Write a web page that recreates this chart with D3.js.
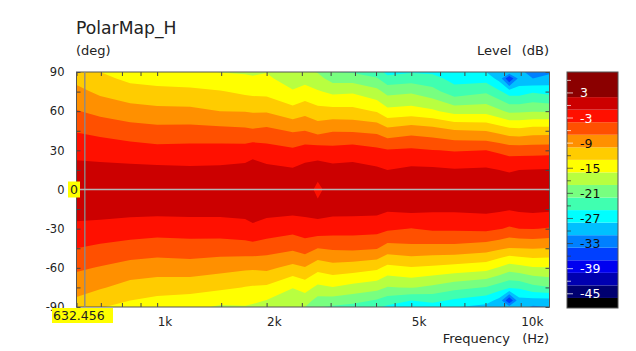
<!DOCTYPE html>
<html>
<head>
<meta charset="utf-8">
<script src="https://d3js.org/d3.v7.min.js"></script>
<style>
    html, body { margin: 0; padding: 0; background: #fff; }
    svg { display: block; }
    text { font-family: "DejaVu Sans", sans-serif; fill: #222; }
    .axis path { display: none; }
    .axis line { stroke: #444; }
    .axis text { font-size: 11.5px; fill: #222; }
</style>
</head>
<body>
<div id="chart"></div>
<script>
let freqs = [600, 697, 843, 1000, 1232, 1489, 1745, 1832, 2000, 2360, 2550, 2765, 3040,
    3450, 4020, 4300, 5000, 5720, 6570, 8030, 8730, 9300, 9900, 10800, 12000];

let angles = [90, 85, 75, 60, 45, 30, 15, 0, -15, -30, -45, -60, -75, -85, -90];

let levels = [
    [-11.6,-10.8,-9.2,-6.8,-4.2,-2,0,1,0.3,-1.8,-4,-6.5,-8.9,-10.4,-11.2],
    [-13,-12.2,-10.6,-7.9,-4.8,-2.3,-0.1,1,0.2,-2,-4.6,-7.2,-9.7,-11.8,-12.8],
    [-14.6,-13.7,-11.8,-8.8,-5.6,-2.7,-0.2,1,0,-2.4,-5.2,-8.2,-11.1,-13,-14],
    [-15,-14.1,-12.2,-9.2,-6,-3.1,-0.3,1,0,-2.7,-5.6,-8.6,-11.6,-13.7,-14.7],
    [-15.3,-14.3,-12.4,-9.3,-5.9,-3,-0.5,1,0,-2.5,-5.4,-8.3,-11.9,-14.1,-15.2],
    [-16.1,-15,-12.8,-10,-6.1,-2.9,-0.4,1,0,-2.5,-5.5,-9,-12.4,-15.1,-16.4],
    [-16.3,-15.4,-13.6,-10.1,-6.4,-2.8,0,1.2,0.1,-2.1,-5.3,-9.5,-13.1,-15.2,-16.2],
    [-16.5,-15.6,-13.8,-10.3,-6.6,-2.2,0.4,1.3,0.5,-1.6,-5.2,-9.6,-13.3,-15.4,-16.5],
    [-16.1,-15.4,-13.9,-10.3,-6.2,-2.8,-0.2,1,0,-2.2,-5.7,-9.3,-13.5,-16.1,-17.4],
    [-18.5,-17.6,-15.7,-11.9,-7.3,-3.5,-0.7,1,0,-3,-6.4,-10.9,-15.9,-17.3,-18],
    [-18,-17,-14.9,-11,-7,-2.7,0,1,0,-2.5,-5.6,-10.2,-14.8,-17.6,-19],
    [-19.2,-18,-15.7,-12,-8,-2.6,0.5,-2,0.2,-2.2,-7,-12,-16.7,-20.1,-21.8],
    [-22,-20.2,-16.7,-12,-7.2,-3,0,1,0,-2.6,-6.6,-11.2,-16.1,-20.3,-22.4],
    [-22.3,-20.3,-16.4,-12.1,-7.3,-2.6,0.1,1,0,-2.7,-6.4,-11.6,-17,-21,-23],
    [-23.5,-21.7,-18.1,-13.2,-7.7,-3.4,-0.5,1,-0.1,-2.9,-6.8,-12.4,-17.9,-22.3,-24.5],
    [-26,-24,-20,-15.1,-9,-3.8,-1,0.8,-0.6,-3.5,-8.3,-13.9,-19.2,-23.5,-25.6],
    [-25.3,-23.4,-19.5,-14.7,-8.1,-3.5,-0.4,1,-0.2,-4.1,-7.8,-13.2,-18.8,-25,-27],
    [-25.5,-24,-20.9,-15.5,-8.6,-3.9,-0.5,1,-0.5,-3.5,-8,-13.6,-19.7,-24.2,-26.5],
    [-27,-26,-23.8,-17.1,-9.7,-4.2,-0.8,1,-0.5,-3.5,-8,-14.1,-21,-25.5,-27.8],
    [-28,-26.2,-22.5,-17,-10.1,-4,-0.6,1,-0.3,-3.3,-8.7,-14.8,-22.2,-26.7,-29],
    [-28.5,-29,-24.5,-18.4,-11,-4.6,-1,1,-0.5,-3.8,-9.5,-16.3,-23.5,-29,-29.5],
    [-29,-37,-26.5,-19.6,-11.8,-5.2,-1.3,1,-0.8,-4.4,-10.1,-17.6,-24.5,-37,-30],
    [-30,-30,-26.5,-19.5,-12,-5.2,-1,1,-0.5,-4,-10,-17,-24.5,-29,-29.5],
    [-32.5,-31,-25.4,-19.2,-11.4,-5.2,-0.9,1,-0.3,-3.9,-9.8,-16.3,-22.9,-29,-31.5],
    [-31.5,-30,-26.1,-19.3,-11.4,-5.1,-0.8,1,-0.5,-4.2,-10.1,-16.2,-22.1,-29,-31]
];

// Colour bands, 3 dB wide, low to high. thresholds[i] is the lower edge of bandColors[i + 1]
let thresholds = [-46, -43, -40, -37, -34, -31, -28, -25, -22, -19, -16, -13, -10, -7, -4, -1, 2];
let bandColors = ["#000000", "#000070", "#0000b0", "#0000f0", "#0040ff", "#0080ff", "#00c0ff", "#00ffff",
    "#40ffb0", "#78ff80", "#b8ff40", "#ffff00", "#ffcc00", "#ff9000", "#ff5000", "#ff1000", "#cc0000", "#8b0000"];

let levelRange = [8, -48.4];

let freqTicks = [600, 700, 800, 900, 1000, 1500, 2000, 2500, 3000, 3500, 4000, 4500, 5000, 6000, 7000, 8000, 9000, 10000];
let freqLabels = {1000: "1k", 2000: "2k", 5000: "5k", 10000: "10k"};
let angleTicks = [90, 75, 60, 45, 30, 15, 0, -15, -30, -45, -60, -75, -90];
let colorbarLabels = [3, -3, -9, -15, -21, -27, -33, -39, -45];
let lightLabels = [3, -3, -39, -45];

let cursorFreq = 632.456;
let cursorAngle = 0;

let svg = d3.select("#chart").append("svg")
    .attr("width", 636)
    .attr("height", 351);

let plot = {left: 76.5, right: 549.5, top: 72, bottom: 307};
let bar = {left: 567, right: 618, top: 72, bottom: 308};

let x = d3.scaleLog().domain([600, 12000]).range([plot.left, plot.right]);
let y = d3.scaleLinear().domain([90, -90]).range([plot.top, plot.bottom]);
let barY = d3.scaleLinear().domain(levelRange).range([bar.top, bar.bottom]);

// Grid index -> frequency / angle, the grid is not evenly spaced
let indexToLogFreq = d3.scaleLinear()
    .domain(d3.range(freqs.length))
    .range(freqs.map(f => Math.log10(f)))
    .clamp(true);
let indexToAngle = d3.scaleLinear()
    .domain(d3.range(angles.length))
    .range(angles)
    .clamp(true);

// d3.contours wants a flat array, row by row
let flat = [];
angles.forEach((a, j) => {
    freqs.forEach((f, i) => flat.push(levels[i][j]));
});

let contours = d3.contours()
    .size([freqs.length, angles.length])
    .thresholds(thresholds)(flat);

// values sit at cell centres, so take off the half cell
function ringPath(ring) {
    return "M" + ring.map(p => {
        let px = x(Math.pow(10, indexToLogFreq(p[0] - 0.5)));
        let py = y(indexToAngle(p[1] - 0.5));
        return px + "," + py;
    }).join("L") + "Z";
}

svg.append("defs").append("clipPath")
    .attr("id", "plot-clip")
    .append("rect")
    .attr("x", plot.left)
    .attr("y", plot.top)
    .attr("width", plot.right - plot.left)
    .attr("height", plot.bottom - plot.top);

let map = svg.append("g").attr("clip-path", "url(#plot-clip)");

map.append("rect")
    .attr("x", plot.left)
    .attr("y", plot.top)
    .attr("width", plot.right - plot.left)
    .attr("height", plot.bottom - plot.top)
    .attr("fill", bandColors[0]);

map.selectAll("path")
    .data(contours)
    .enter().append("path")
    .attr("fill", (d, i) => bandColors[i + 1])
    .attr("fill-rule", "evenodd")
    .attr("d", d => d.coordinates.map(poly => poly.map(ringPath).join("")).join(""));

// Axes: ticks point inwards on all four sides
let xAxis = d3.axisBottom(x)
    .tickValues(freqTicks)
    .tickSizeInner(-4)
    .tickSizeOuter(0)
    .tickPadding(10)
    .tickFormat(d => freqLabels[d] || "");

let xGroup = svg.append("g")
    .attr("class", "axis")
    .attr("transform", "translate(0," + plot.bottom + ")")
    .call(xAxis);
xGroup.selectAll("text")
    .attr("text-anchor", "start")
    .style("font-size", "12px");

svg.append("g")
    .attr("class", "axis")
    .attr("transform", "translate(0," + plot.top + ")")
    .call(d3.axisTop(x).tickValues(freqTicks).tickSizeInner(-4).tickSizeOuter(0).tickFormat(""));

svg.append("g")
    .attr("class", "axis")
    .attr("transform", "translate(" + plot.left + ",0)")
    .call(d3.axisLeft(y).tickValues(angleTicks).tickSizeInner(-4).tickSizeOuter(0).tickPadding(12)
        .tickFormat(d => d % 30 === 0 ? d : ""));

svg.append("g")
    .attr("class", "axis")
    .attr("transform", "translate(" + plot.right + ",0)")
    .call(d3.axisRight(y).tickValues(angleTicks).tickSizeInner(-4).tickSizeOuter(0).tickFormat(""));

svg.selectAll(".axis text")
    .style("font-family", '"DejaVu Sans", sans-serif');

svg.append("rect")
    .attr("x", plot.left)
    .attr("y", plot.top)
    .attr("width", plot.right - plot.left)
    .attr("height", plot.bottom - plot.top)
    .attr("fill", "none")
    .attr("stroke", "#555");

// Cursor lines
svg.append("line")
    .attr("x1", x(cursorFreq)).attr("x2", x(cursorFreq))
    .attr("y1", plot.top).attr("y2", plot.bottom)
    .attr("stroke", "#8a8a8a")
    .attr("stroke-width", 1.4);
svg.append("line")
    .attr("x1", plot.left).attr("x2", plot.right)
    .attr("y1", y(cursorAngle)).attr("y2", y(cursorAngle))
    .attr("stroke", "#b4b4b4")
    .attr("stroke-width", 1.4);

// Yellow cursor read-outs
svg.append("rect")
    .attr("x", 68).attr("y", y(cursorAngle) - 8)
    .attr("width", 12).attr("height", 16)
    .attr("fill", "#ffff00");
svg.append("text")
    .attr("x", 74).attr("y", y(cursorAngle) + 4.5)
    .attr("text-anchor", "middle")
    .style("font-size", "12.5px")
    .text(cursorAngle);
svg.append("rect")
    .attr("x", 52).attr("y", 308)
    .attr("width", 61).attr("height", 15)
    .attr("fill", "#ffff00");
svg.append("text")
    .attr("x", 53).attr("y", 320)
    .style("font-size", "12.5px")
    .text(cursorFreq);

// Titles
svg.append("text").attr("x", 76).attr("y", 34).style("font-size", "17.2px").text("PolarMap_H");
svg.append("text").attr("x", 76).attr("y", 55).style("font-size", "13px").text("(deg)");
svg.append("text")
    .attr("x", 549).attr("y", 55)
    .attr("text-anchor", "end")
    .style("font-size", "13px")
    .style("white-space", "pre")
    .style("word-spacing", "1px")
    .text("Level  (dB)");
svg.append("text")
    .attr("x", 549).attr("y", 343)
    .attr("text-anchor", "end")
    .style("font-size", "13px")
    .style("white-space", "pre")
    .text("Frequency   (Hz)");

// Colour bar
let edges = [levelRange[1]].concat(thresholds, [levelRange[0]]);

svg.append("g").selectAll("rect")
    .data(bandColors)
    .enter().append("rect")
    .attr("x", bar.left)
    .attr("width", bar.right - bar.left)
    .attr("y", (d, i) => barY(edges[i + 1]))
    .attr("height", (d, i) => barY(edges[i]) - barY(edges[i + 1]))
    .attr("fill", d => d);

svg.append("rect")
    .attr("x", bar.left)
    .attr("y", bar.top)
    .attr("width", bar.right - bar.left)
    .attr("height", bar.bottom - bar.top)
    .attr("fill", "none")
    .attr("stroke", "#555");

let barTicks = d3.range(6, -48, -3);
svg.append("g").selectAll("line")
    .data(barTicks)
    .enter().append("line")
    .attr("x1", bar.left)
    .attr("x2", d => bar.left + (d % 6 === 3 || d % 6 === -3 ? 6 : 4))
    .attr("y1", d => barY(d))
    .attr("y2", d => barY(d))
    .attr("stroke", d => d > -12 || d < -36 ? "#fff" : "#333")
    .attr("stroke-opacity", 0.7);

svg.append("g").selectAll("text")
    .data(colorbarLabels)
    .enter().append("text")
    .attr("x", 580)
    .attr("y", d => barY(d) + 4.5)
    .style("font-size", "12.5px")
    .style("fill", d => lightLabels.includes(d) ? "#fff" : "#111")
    .text(d => d);
</script>
</body>
</html>
